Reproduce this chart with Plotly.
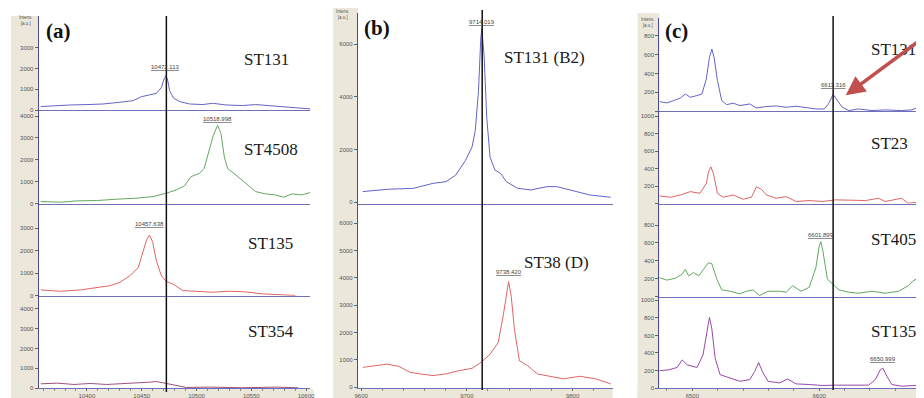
import plotly.graph_objects as go

W, H = 924, 398

# ---------------- Panel (a) ----------------
a_x_range = [10356, 10604]
a_ticks = [10400, 10450, 10500, 10550, 10600]

a1_x = [10357.8, 10369.8, 10385, 10400, 10415, 10430, 10442.3, 10450, 10457.4, 10463.5, 10468, 10470,
        10472, 10473.5, 10475.5, 10479, 10484.6, 10493.7, 10505.7, 10514.8, 10527, 10542, 10554, 10569,
        10581, 10593, 10604]
a1_y = [176, 224, 252, 271, 300, 381, 462, 652, 747, 809, 1095, 1442, 1652, 1490, 938, 586, 414, 300,
        271, 333, 252, 224, 271, 205, 143, 95, 62]

a2_x = [10357.8, 10376, 10391, 10409, 10427, 10445, 10460.4, 10472.5, 10481.6, 10489, 10495, 10502.7,
        10507, 10511.8, 10515.4, 10519.3, 10522.4, 10525.4, 10528.4, 10536, 10545, 10554, 10563, 10572,
        10579.7, 10587, 10596, 10604]
a2_y = [91, 61, 121, 136, 197, 243, 318, 470, 622, 804, 1228, 1380, 1607, 2442, 3124, 3579, 3200, 2139,
        1607, 1304, 925, 546, 440, 394, 288, 440, 394, 500]

a3_x = [10357.8, 10376, 10394, 10409, 10421, 10430, 10439, 10446.8, 10451, 10454.4, 10457, 10459.9,
        10463.5, 10468, 10472.5, 10478.5, 10487.6, 10499.7, 10514.8, 10530, 10545, 10560, 10575, 10590.3]
a3_y = [261, 203, 261, 348, 450, 595, 885, 1247, 1972, 2480, 2697, 2407, 1537, 885, 638, 522, 232, 203,
        160, 203, 174, 87, 58, 14]

a4_x = [10357.8, 10373, 10388, 10403, 10418, 10433, 10448, 10457.4, 10463.5, 10469.5, 10475.5, 10483,
        10490.7, 10511.8, 10542, 10572.8, 10593]
a4_y = [217, 250, 183, 233, 183, 217, 250, 300, 333, 267, 183, 100, 33, 50, 17, 50, 17]

a_names = ["ST131", "ST4508", "ST135", "ST354"]
a_peak_x = [10472, 10519, 10457]
a_peak_lbl = ["10472.113", "10518.998", "10457.638"]
a_ref_x = 10472.5

# ---------------- Panel (b) ----------------
b_x_range = [9597, 9838]
b_ticks = [9600, 9700, 9800]

b1_x = [9601.6, 9624.7, 9649.4, 9667.9, 9680.3, 9689.5, 9698.8, 9704.9, 9708, 9711, 9713.2, 9714.2,
        9716.4, 9718.8, 9721.9, 9726.5, 9732, 9737.3, 9748, 9760.5, 9776, 9785, 9797.5, 9816, 9836]
b1_y = [396, 483, 520, 710, 774, 1025, 1590, 2094, 2723, 4234, 6245, 6600, 5490, 3227, 1717, 1215, 1088,
        774, 520, 460, 585, 585, 460, 270, 180]

b2_x = [9601.6, 9615.5, 9624.7, 9635.5, 9646.3, 9655.6, 9667.9, 9680.3, 9692.6, 9705, 9714.2, 9722,
        9729.6, 9734.3, 9737.3, 9739.5, 9742, 9745, 9749.7, 9757.4, 9766.7, 9779, 9791.4, 9806.8, 9822, 9836]
b2_y = [724, 807, 844, 760, 543, 483, 423, 483, 604, 688, 930, 1205, 1629, 2595, 3439, 3862, 3318, 2110,
        966, 785, 483, 398, 302, 398, 302, 120]

b_names = ["ST131 (B2)", "ST38 (D)"]
b_peak_lbl = ["9714.019", "9738.420"]
b_ref_x = 9714.5

# ---------------- Panel (c) ----------------
c_x_range = [6474, 6685]
c_ticks = [6500, 6600]

c1_x = [6474.2, 6480, 6485.4, 6490.6, 6494.5, 6498.4, 6503.7, 6507.6, 6511, 6513.5, 6515.4, 6517.2,
        6519.8, 6523.2, 6527, 6532.3, 6537.5, 6545.3, 6550.5, 6558.4, 6566, 6574, 6581.8, 6589.6, 6597.4,
        6604, 6607.3, 6611, 6614.3, 6618.2, 6623.4, 6631, 6641.6, 6652, 6665, 6673, 6679.5, 6684.6]
c1_y = [102, 88, 113, 140, 183, 148, 166, 183, 342, 570, 660, 570, 325, 113, 70, 85, 60, 77, 35, 50, 56,
        42, 53, 35, 24, 24, 77, 177, 113, 42, 7, 24, 7, 14, 7, 14, 50, 14]

c2_x = [6474, 6482.8, 6490.6, 6498.4, 6506, 6511, 6512.8, 6514.6, 6516.6, 6519.8, 6524.5, 6532.3, 6540,
        6546.6, 6550.5, 6554.5, 6558.4, 6566, 6574, 6581.8, 6592.2, 6602.6, 6613, 6626, 6636.5, 6646.9,
        6652, 6665, 6670, 6684.6]
c2_y = [87, 72, 98, 136, 117, 230, 362, 420, 344, 117, 72, 98, 49, 72, 192, 162, 98, 60, 79, 23, 34, 23,
        42, 42, 34, 60, 23, 60, 4, 23]

c3_x = [6474, 6480, 6486.7, 6492, 6494.5, 6497, 6501, 6505, 6508.8, 6512.7, 6515.4, 6519.3, 6523.2,
        6529.7, 6537.5, 6542.7, 6547.9, 6553, 6559.6, 6568.8, 6574, 6579, 6585.7, 6592.2, 6597.4, 6600,
        6601.3, 6603, 6606.5, 6610.4, 6615.6, 6623.4, 6631, 6641.6, 6652, 6662.5, 6670.3, 6674, 6678,
        6682, 6684.6]
c3_y = [215, 186, 208, 252, 306, 233, 270, 233, 306, 380, 369, 197, 77, 62, 33, 62, 77, 14, 62, 62, 51,
        124, 62, 106, 325, 561, 616, 506, 197, 142, 77, 51, 40, 62, 40, 62, 124, 178, 208, 124, 77]

c4_x = [6474, 6481.5, 6488, 6492, 6495.9, 6503.7, 6508.4, 6511.5, 6513.5, 6515.4, 6518, 6521.9, 6529.7,
        6537.5, 6545.3, 6549.2, 6552.3, 6555.2, 6559.6, 6568.8, 6575.2, 6581.8, 6592.2, 6602.6, 6613,
        6626, 6639, 6644.3, 6648.2, 6650.2, 6653.4, 6657.3, 6665, 6675.5, 6684.6]
c4_y = [198, 209, 235, 321, 265, 235, 377, 637, 805, 674, 339, 153, 115, 78, 97, 190, 291, 190, 78, 59,
        104, 48, 41, 30, 34, 30, 34, 97, 209, 228, 134, 41, 22, 30, 34]

c_names = ["ST131", "ST23", "ST405", "ST135"]
c_peak_lbl = ["6611.316", "6601.899", "6650.999"]
c_ref_x = 6611

# y tick values shown per row
a_yt = [[0, 1000, 2000, 3000], [0, 1000, 2000, 3000, 4000], [0, 1000, 2000, 3000], [0, 1000, 2000, 3000, 4000]]
b_yt = [[0, 2000, 4000, 6000], [0, 1000, 2000, 3000, 4000, 5000, 6000]]
c_yt = [[0, 200, 400, 600, 800], [0, 200, 400, 600, 800, 1000], [0, 200, 400, 600, 800],
        [0, 200, 400, 600, 800, 1000]]

BLUE, GREEN, RED, PURP, DPURP = "#6464c8", "#62a862", "#e06464", "#9848a8", "#a0507e"


def xd(l, r):
    return [l / W, r / W]


def yd(top, bot):
    return [1 - bot / H, 1 - top / H]


fig = go.Figure()
layout = {}

# (axis index, x domain px, y domain px, x range, y ticks, bottom row, x ticks, minor dtick, hide zero label)
subplots = [
    (1, (28, 302), (8, 103), a_x_range, [0, 4520], a_yt[0], False, a_ticks, 10, False),
    (2, (28, 302), (103, 197), a_x_range, [0, 4270], a_yt[1], False, a_ticks, 10, False),
    (3, (28, 302), (197, 290), a_x_range, [0, 4100], a_yt[2], False, a_ticks, 10, False),
    (4, (28, 302), (290, 383), a_x_range, [0, 4650], a_yt[3], True, a_ticks, 10, False),
    (5, (350, 607), (5, 197), b_x_range, [-57, 7190], b_yt[0], False, b_ticks, 20, False),
    (6, (350, 607), (197, 383), b_x_range, [-36, 6720], b_yt[1], True, b_ticks, 20, False),
    (7, (654, 924), (10, 104), c_x_range, [0, 990], c_yt[0], False, c_ticks, 20, True),
    (8, (654, 924), (104, 197), c_x_range, [0, 1057], c_yt[1], False, c_ticks, 20, True),
    (9, (654, 924), (197, 291), c_x_range, [0, 1040], c_yt[2], False, c_ticks, 20, True),
    (10, (654, 924), (291, 383), c_x_range, [0, 1040], c_yt[3], True, c_ticks, 20, False),
]

tickfont = dict(family="Liberation Sans", size=6, color="#555555")
for idx, xdom, ydom, xr, yr, yt, bottom, xt, mdt, hide0 in subplots:
    s = "" if idx == 1 else str(idx)
    layout["xaxis" + s] = dict(
        domain=xd(*xdom), anchor="y" + s, range=xr, showgrid=False, zeroline=False,
        showline=True, linecolor="#7070b8", linewidth=1,
        tickmode="array", tickvals=xt, ticktext=[str(v) for v in xt], ticks="outside" if bottom else "",
        ticklen=2, tickcolor="#666666", showticklabels=bottom, tickfont=tickfont,
        minor=dict(dtick=mdt, ticks="outside" if bottom else "", ticklen=2, tickcolor="#888888"),
        fixedrange=True,
    )
    ytext = [("" if (hide0 and v == 0) else str(v)) for v in yt]
    layout["yaxis" + s] = dict(
        domain=yd(*ydom), anchor="x" + s, range=yr, showgrid=False, zeroline=False,
        showline=True, linecolor="#4a4a90", linewidth=1.2, tickmode="array", tickvals=yt, ticktext=ytext,
        ticks="outside", ticklen=3, tickcolor="#666666", tickfont=tickfont, fixedrange=True,
    )

traces = [
    (a1_x, a1_y, BLUE, 1), (a2_x, a2_y, GREEN, 2), (a3_x, a3_y, RED, 3), (a4_x, a4_y, DPURP, 4),
    (b1_x, b1_y, BLUE, 5), (b2_x, b2_y, RED, 6),
    (c1_x, c1_y, BLUE, 7), (c2_x, c2_y, RED, 8), (c3_x, c3_y, GREEN, 9), (c4_x, c4_y, PURP, 10),
]
for xs, ys, col, idx in traces:
    s = "" if idx == 1 else str(idx)
    fig.add_trace(go.Scatter(x=xs, y=ys, mode="lines", line=dict(color=col, width=1),
                             xaxis="x" + s, yaxis="y" + s, showlegend=False, hoverinfo="skip"))

BEIGE = "#ebe8db"
shapes = []
for (l, r, top, bl) in [(0, 28, 8, 305), (325, 350, 0, 607), (632, 654, 5, 924)]:
    shapes.append(dict(type="rect", xref="paper", yref="paper", x0=l / W, x1=r / W,
                       y0=0, y1=1 - top / H, fillcolor=BEIGE, line=dict(width=0), layer="below"))
    shapes.append(dict(type="rect", xref="paper", yref="paper", x0=l / W, x1=bl / W,
                       y0=0, y1=1 - 384 / H, fillcolor=BEIGE, line=dict(width=0), layer="below"))

# reference vertical lines
for xr_, xv, top, bot in [("x", a_ref_x, 8, 387), ("x5", b_ref_x, 2, 385), ("x7", c_ref_x, 8, 385)]:
    shapes.append(dict(type="line", xref=xr_, yref="paper", x0=xv, x1=xv, y0=1 - bot / H, y1=1 - top / H,
                       line=dict(color="#111111", width=1.5)))

ann = []
serif = "Liberation Serif"
# panel letters
for txt, px, py in [("(a)", 33, 23), ("(b)", 354, 20), ("(c)", 658, 23)]:
    ann.append(dict(text="<b>%s</b>" % txt, x=px / W, y=1 - py / H, xref="paper", yref="paper",
                    xanchor="left", yanchor="middle", showarrow=False,
                    font=dict(family=serif, size=21, color="#111111")))
# Intens labels
for px, py in [(15, 13), (335, 7), (643, 15)]:
    ann.append(dict(text="Intens.<br>[a.u.]", x=px / W, y=1 - py / H, xref="paper", yref="paper",
                    xanchor="center", yanchor="middle", showarrow=False,
                    font=dict(family="Liberation Sans", size=4.5, color="#555555")))

# strain names
for name, px, py in [(a_names[0], 233, 52), (a_names[1], 233, 143), (a_names[2], 237, 237), (a_names[3], 237, 326),
                     (b_names[0], 495, 50), (b_names[1], 515, 256),
                     (c_names[0], 865, 42), (c_names[1], 865, 137), (c_names[2], 865, 233), (c_names[3], 865, 326)]:
    ann.append(dict(text=name, x=px / W, y=1 - py / H, xref="paper", yref="paper",
                    xanchor="left", yanchor="middle", showarrow=False,
                    font=dict(family=serif, size=17, color="#1a1a1a")))

# peak labels (data coordinates)
pk = [
    (a_peak_lbl[0], a_peak_x[0], 2050, "x", "y"),
    (a_peak_lbl[1], a_peak_x[1], 3850, "x2", "y2"),
    (a_peak_lbl[2], a_peak_x[2], 3170, "x3", "y3"),
    (b_peak_lbl[0], 9714.5, 6850, "x5", "y5"),
    (b_peak_lbl[1], 9739.5, 4230, "x6", "y6"),
    (c_peak_lbl[0], 6611, 275, "x7", "y7"),
    (c_peak_lbl[1], 6601.3, 690, "x9", "y9"),
    (c_peak_lbl[2], 6650.2, 337, "x10", "y10"),
]
for txt, xv, yv, xr_, yr_ in pk:
    ann.append(dict(text="<u>%s</u>" % txt, x=xv, y=yv, xref=xr_, yref=yr_, xanchor="center",
                    yanchor="middle", showarrow=False,
                    font=dict(family="Liberation Sans", size=6, color="#444444")))

# red arrow in (c)
ann.append(dict(text="", x=842 / W, y=1 - 88 / H, xref="paper", yref="paper", showarrow=True,
                ax=95, ay=-64, arrowcolor="#c0504d", arrowwidth=3.5, arrowhead=2, arrowsize=1.1))

fig.update_layout(**layout)
fig.update_layout(width=W, height=H, margin=dict(l=0, r=0, t=0, b=0), paper_bgcolor="white",
                  plot_bgcolor="white", shapes=shapes, annotations=ann, showlegend=False)

fig.write_html("out.html")
